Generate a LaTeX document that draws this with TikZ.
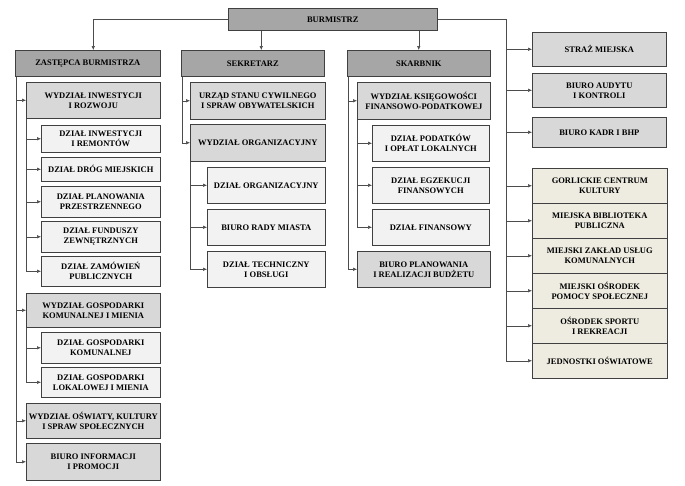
\documentclass[tikz,border=0pt]{standalone}
\usepackage{fontspec}
\setmainfont{Liberation Serif}
\usepackage{tikz}
\usetikzlibrary{arrows.meta, shadows, positioning}
\definecolor{szary}{RGB}{166,166,166}
\definecolor{jasny}{RGB}{216,216,216}
\definecolor{blady}{RGB}{242,242,242}
\definecolor{bez}{RGB}{238,236,225}
\tikzset{
    box/.style ={draw=black!75, line width=0.6pt, anchor=north west, align=center, inner sep=1pt,
        font=\bfseries\fontsize{8.5}{10}\selectfont,
        drop shadow={shadow xshift=1pt, shadow yshift=-1pt, opacity=0.45, fill=black!60}}, % every unit box of the chart
    boss/.style = {box, fill=szary},  % top level: burmistrz and deputies
    wydz/.style = {box, fill=jasny},  % departments
    dzial/.style = {box, fill=blady}, % sections inside a department
    jedn/.style = {box, fill=bez},    % municipal units
    arr/.style = {draw=black!70, line width=0.5pt, -{Latex[length=4pt, width=3.5pt]}}
}
\begin{document}
\begin{tikzpicture}[x=1pt, y=-1pt]
\path[fill=white, use as bounding box] (0,0) rectangle (685,485);

\node[boss, minimum width=209pt, minimum height=22pt] (burm) at (228,8) {BURMISTRZ};
\node[boss, minimum width=145pt, minimum height=26pt] (zast) at (15,50) {ZASTĘPCA BURMISTRZA};
\node[boss, minimum width=143pt, minimum height=26pt] (sekr) at (181,50) {SEKRETARZ};
\node[boss, minimum width=143pt, minimum height=26pt] (skarb) at (347,50) {SKARBNIK};

\node[wydz, minimum width=134pt, minimum height=36pt] (wInw) at (26,82) {WYDZIAŁ INWESTYCJI\\I ROZWOJU};
\node[dzial, minimum width=119pt, minimum height=27pt] (dInw) at (41,125) {DZIAŁ INWESTYCJI\\I REMONTÓW};
\node[dzial, minimum width=119pt, minimum height=24pt] (dDrog) at (41,157) {DZIAŁ DRÓG MIEJSKICH};
\node[dzial, minimum width=119pt, minimum height=31pt] (dPlan) at (41,186) {DZIAŁ PLANOWANIA\\PRZESTRZENNEGO};
\node[dzial, minimum width=119pt, minimum height=31pt] (dFund) at (41,221) {DZIAŁ FUNDUSZY\\ZEWNĘTRZNYCH};
\node[dzial, minimum width=119pt, minimum height=30pt] (dZam) at (41,256) {DZIAŁ ZAMÓWIEŃ\\PUBLICZNYCH};
\node[wydz, minimum width=134pt, minimum height=34pt] (wGosp) at (26,293) {WYDZIAŁ GOSPODARKI\\KOMUNALNEJ I MIENIA};
\node[dzial, minimum width=119pt, minimum height=31pt] (dKom) at (41,332) {DZIAŁ GOSPODARKI\\KOMUNALNEJ};
\node[dzial, minimum width=119pt, minimum height=30pt] (dLok) at (41,367) {DZIAŁ GOSPODARKI\\LOKALOWEJ I MIENIA};
\node[wydz, minimum width=134pt, minimum height=35pt] (wOsw) at (26,403) {WYDZIAŁ OŚWIATY, KULTURY\\I SPRAW SPOŁECZNYCH};
\node[wydz, minimum width=134pt, minimum height=37pt] (bInf) at (26,443) {BIURO INFORMACJI\\I PROMOCJI};

\node[wydz, minimum width=135pt, minimum height=37pt] (usc) at (190,82) {URZĄD STANU CYWILNEGO\\I SPRAW OBYWATELSKICH};
\node[wydz, minimum width=135pt, minimum height=37pt] (wOrg) at (190,124) {WYDZIAŁ ORGANIZACYJNY};
\node[dzial, minimum width=118pt, minimum height=36pt] (dOrg) at (207,167) {DZIAŁ ORGANIZACYJNY};
\node[dzial, minimum width=118pt, minimum height=36pt] (bRady) at (207,209) {BIURO RADY MIASTA};
\node[dzial, minimum width=118pt, minimum height=36pt] (dTech) at (207,251) {DZIAŁ TECHNICZNY\\I OBSŁUGI};

\node[wydz, minimum width=133pt, minimum height=37pt] (wKsi) at (357,82) {WYDZIAŁ KSIĘGOWOŚCI\\FINANSOWO-PODATKOWEJ};
\node[dzial, minimum width=117pt, minimum height=36pt] (dPod) at (372,125) {DZIAŁ PODATKÓW\\I OPŁAT LOKALNYCH};
\node[dzial, minimum width=117pt, minimum height=36pt] (dEgz) at (372,167) {DZIAŁ EGZEKUCJI\\FINANSOWYCH};
\node[dzial, minimum width=117pt, minimum height=36pt] (dFin) at (372,209) {DZIAŁ FINANSOWY};
\node[wydz, minimum width=133pt, minimum height=36pt] (bPlan) at (357,251) {BIURO PLANOWANIA\\I REALIZACJI BUDŻETU};

\node[wydz, minimum width=134pt, minimum height=34pt] (straz) at (532,32) {STRAŻ MIEJSKA};
\node[wydz, minimum width=134pt, minimum height=34pt] (bAud) at (532,73) {BIURO AUDYTU\\I KONTROLI};
\node[wydz, minimum width=134pt, minimum height=30pt] (bKadr) at (532,117) {BIURO KADR I BHP};
\node[jedn, minimum width=135pt, minimum height=35pt] (gck) at (532,168) {GORLICKIE CENTRUM\\KULTURY};
\node[jedn, minimum width=135pt, minimum height=35pt] (mbp) at (532,203) {MIEJSKA BIBLIOTEKA\\PUBLICZNA};
\node[jedn, minimum width=135pt, minimum height=35pt] (mzuk) at (532,238) {MIEJSKI ZAKŁAD USŁUG\\KOMUNALNYCH};
\node[jedn, minimum width=135pt, minimum height=35pt] (mops) at (532,273) {MIEJSKI OŚRODEK\\POMOCY SPOŁECZNEJ};
\node[jedn, minimum width=135pt, minimum height=35pt] (osir) at (532,308) {OŚRODEK SPORTU\\I REKREACJI};
\node[jedn, minimum width=135pt, minimum height=35pt] (jo) at (532,343) {JEDNOSTKI OŚWIATOWE};

\coordinate (zl) at ([xshift=1pt]zast.south west);
\coordinate (sl) at ([xshift=1pt]sekr.south west);
\coordinate (kl) at ([xshift=1pt]skarb.south west);
\coordinate (rl) at ([xshift=-26pt]jo.west);

\draw[arr] (burm.west) -| ([xshift=5.5pt]zast.north);
\draw[arr] ([xshift=8.5pt]burm.south -| sekr.north) -- ([xshift=8.5pt]sekr.north);
\draw[arr] (burm.south -| skarb.north) -- (skarb.north);
\draw[arr] (burm.east) -| (rl) -- (jo.west);
\foreach \n in {straz, bAud, bKadr, gck, mbp, mzuk, mops, osir}
    \draw[arr] (rl |- \n.west) -- (\n.west);

\draw[arr] (zl) |- (bInf.west);
\foreach \n in {wInw, wGosp, wOsw}
    \draw[arr] (zl |- \n.west) -- (\n.west);
\draw[arr] (wInw.south west) |- (dZam.west);
\foreach \n in {dInw, dDrog, dPlan, dFund}
    \draw[arr] (wInw.south west |- \n.west) -- (\n.west);
\draw[arr] (wGosp.south west) |- (dLok.west);
\draw[arr] (wGosp.south west |- dKom.west) -- (dKom.west);

\draw[arr] (sl) |- (wOrg.west);
\draw[arr] (sl |- usc.west) -- (usc.west);
\draw[arr] (wOrg.south west) |- (dTech.west);
\foreach \n in {dOrg, bRady}
    \draw[arr] (wOrg.south west |- \n.west) -- (\n.west);

\draw[arr] (kl) |- (bPlan.west);
\draw[arr] (kl |- wKsi.west) -- (wKsi.west);
\draw[arr] (wKsi.south west) |- (dFin.west);
\foreach \n in {dPod, dEgz}
    \draw[arr] (wKsi.south west |- \n.west) -- (\n.west);
\end{tikzpicture}
\end{document}
